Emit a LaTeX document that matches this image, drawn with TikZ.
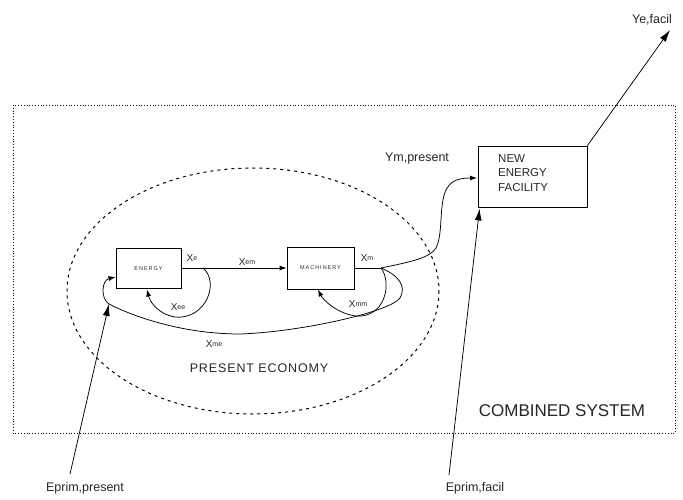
\documentclass[tikz,border=0pt]{standalone}
\usepackage{fontspec}
\setmainfont{Liberation Sans}
\newfontfamily\spacedfont[LetterSpace=18]{Liberation Sans}
\newfontfamily\widefont[LetterSpace=7]{Liberation Sans}
\usetikzlibrary{arrows.meta}
\newcommand{\sxl}[1]{X\raisebox{0.25ex}{\fontsize{7}{8}\selectfont #1}}
\begin{document}
\begin{tikzpicture}[x=1pt,y=-1pt,
  box/.style={draw,line width=0.8pt,rectangle,inner sep=0pt},
  lab/.style={inner sep=0pt,text=black!85,font=\fontsize{12.5}{14}\selectfont},
  xl/.style={inner sep=0pt,text=black!85,font=\fontsize{10}{12}\selectfont},
  tinylab/.style={text=black!85,font=\spacedfont\fontsize{5.5}{6}\selectfont},
  conn/.style={line width=0.75pt},
  arr/.style={conn,-{Latex[length=7pt,width=5pt]}},
  bigarr/.style={conn,-{Latex[length=12pt,width=7pt]}},
]
\useasboundingbox (0,0) rectangle (683,500);
% combined system boundary
\draw[dotted,line width=0.8pt] (13,105) rectangle (675,433);
% present economy boundary
\draw[dash pattern=on 3pt off 4pt,line width=1pt] (253,291) ellipse [x radius=186, y radius=123];

% boxes
\node[box,minimum width=65pt,minimum height=40pt,tinylab] (energy) at (148.5,268.5) {ENERGY};
\node[box,minimum width=67pt,minimum height=42pt,tinylab] (mach) at (320.5,268) {MACHINERY};
\node[box,minimum width=109pt,minimum height=61pt] (nef) at (532.5,176.5) {};
\node[inner sep=0pt,align=left,anchor=north west,text=black!85,font=\fontsize{11.5}{14.5}\selectfont] (neftext) at (498,154) {NEW\\ENERGY\\FACILITY};

% labels
\node[xl] (lxe) at (192,258) {\sxl{e}};
\node[xl] (lxem) at (247,262) {\sxl{em}};
\node[xl] (lxm) at (367,258) {\sxl{m}};
\node[xl] (lxee) at (178,307) {\sxl{ee}};
\node[xl] (lxmm) at (358,304) {\sxl{mm}};
\node[xl] (lxme) at (214,344) {\sxl{me}};
\node[lab] (lym) at (417,158) {Ym,present};
\node[inner sep=0pt,text=black!85,font=\widefont\fontsize{12.5}{15}\selectfont] (lpe) at (259,368) {PRESENT ECONOMY};
\node[inner sep=0pt,text=black!85,font=\fontsize{17}{19}\selectfont] (lcs) at (562,411) {COMBINED SYSTEM};
\node[lab] (lepp) at (85,488) {Eprim,present};
\node[lab] (lepf) at (475,488) {Eprim,facil};
\node[lab] (lyef) at (652,20) {Ye,facil};

% coordinates
\coordinate (jm) at (381,268);
\coordinate (je) at (203,268);
\coordinate (jl) at (109,304);
\coordinate (yetip) at (670,30);

% flows
\draw[arr] (energy.east |- 0,268) -- (mach.west |- 0,268);
\draw[conn] (mach.east |- 0,268) -- (jm);
% Xee loop
\draw[arr] (je) .. controls (220,282) and (206,320) .. (175,317)
  .. controls (158,314) and (150,302) .. (147,289.5);
% Xmm loop
\draw[arr] (jm) .. controls (392,282) and (386,318) .. (356,316)
  .. controls (338,314) and (323,300) .. (318,289.5);
% Xme loop
\draw[arr] (jm) .. controls (398,275) and (407,286) .. (400,298)
  .. controls (390,312) and (300,332) .. (240,334)
  .. controls (180,334) and (130,315) .. (jl)
  .. controls (100,298) and (102,280) .. ([yshift=-8.5pt]energy.west);
% Ym,present
\draw[arr] (jm) .. controls (410,262) and (430,258) .. (436,248)
  .. controls (442,236) and (440,215) .. (443,200)
  .. controls (446,182) and (456,178) .. (477,178);
% primary energy inputs
\draw[bigarr] (70,474) -- (jl);
\draw[bigarr] (449,475) -- ([xshift=2pt,yshift=-1pt]nef.south west);
% output
\draw[bigarr] (nef.north east) -- (yetip);
\end{tikzpicture}
\end{document}
